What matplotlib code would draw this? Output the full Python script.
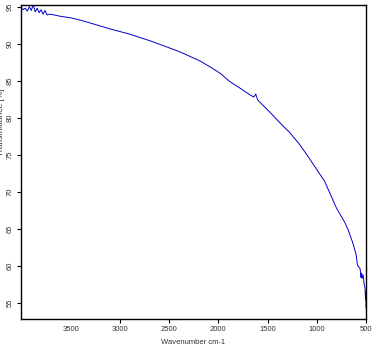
import matplotlib
matplotlib.use("Agg")
import matplotlib.pyplot as plt

wavenumber = [4000, 3980, 3960, 3940, 3920, 3900, 3880, 3860, 3840, 3820, 3800, 3780, 3760, 3740, 3710,
              3600, 3500, 3405, 3250, 3100, 2900, 2695, 2550, 2390, 2190, 2087, 1980, 1885, 1780,
              1680, 1640, 1620, 1600, 1480, 1380, 1275, 1175, 1080, 1000, 920, 860, 800, 717, 680,
              637, 600, 587, 560, 550, 546, 540, 530, 520, 510, 505, 502, 500]
transmittance = [94.9, 94.6, 94.8, 94.4, 95.0, 94.5, 95.3, 94.3, 94.8, 94.2, 94.6, 94.0, 94.5, 93.9, 94.0,
                 93.7, 93.5, 93.2, 92.6, 92.0, 91.3, 90.4, 89.7, 88.9, 87.7, 86.9, 86.0, 84.9, 84.0,
                 83.1, 82.8, 83.2, 82.4, 80.8, 79.4, 78.0, 76.4, 74.6, 73.0, 71.4, 69.6, 67.8, 65.9, 64.8,
                 63.2, 61.5, 60.1, 59.6, 58.4, 59.0, 58.3, 58.8, 57.6, 57.0, 55.5, 56.5, 54.3]
xticks = [3500, 3000, 2500, 2000, 1500, 1000, 500]
yticks = [55, 60, 65, 70, 75, 80, 85, 90, 95]

plt.rcParams['font.family'] = ['Liberation Sans', 'DejaVu Sans']
fig = plt.figure(figsize=(3.76, 3.58), dpi=100)
ax = fig.add_axes([0.0559, 0.1089, 0.9175, 0.8785])
ax.plot(wavenumber, transmittance, color='#0000c8', lw=0.7)
ax.set_xlim(4004, 500)
ax.set_ylim(52.8, 95.3)
ax.set_xticks(xticks)
ax.set_xticklabels([str(t) for t in xticks])
ax.set_yticks(yticks)
ax.set_yticklabels([str(t) for t in yticks], rotation=90, va='center')
ax.xaxis.get_major_ticks()[0].tick1line.set_visible(False)
ax.tick_params(axis='both', labelsize=5.5, labelcolor='#333333', length=3, width=0.8, pad=2)
for s in ax.spines.values():
    s.set_linewidth(1.0)
ax.set_xlabel('Wavenumber cm-1', fontsize=5.5, color='#333333', labelpad=4)
ax.set_ylabel('Transmittance [%]', fontsize=6, color='#333333', labelpad=1)
ax.yaxis.set_label_coords(-0.045, 0.625)
fig.savefig('out.png', dpi=100)
